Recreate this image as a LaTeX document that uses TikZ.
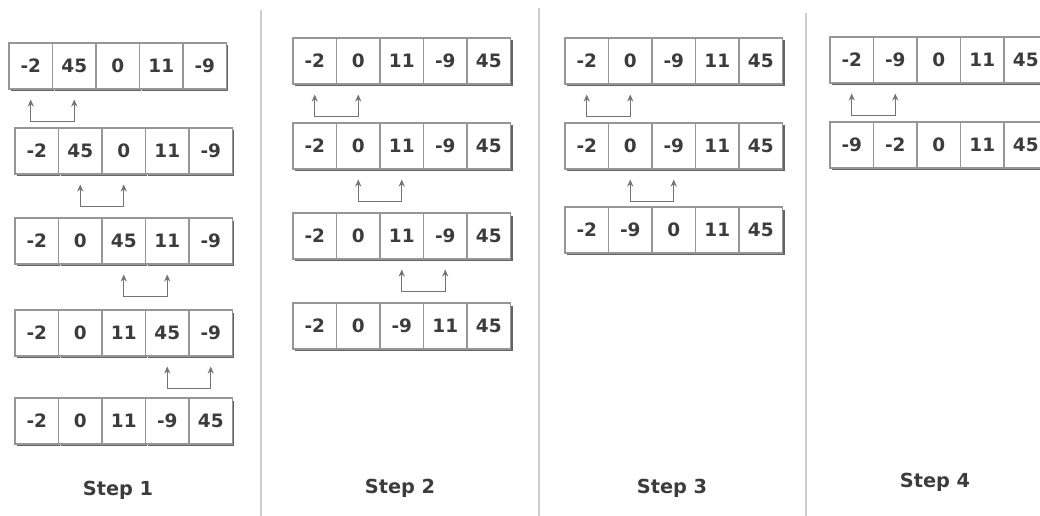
\documentclass[tikz,border=0pt]{standalone}
\usepackage{fontspec}
\setmainfont{DejaVu Sans}
\usepackage{tikz}
\usetikzlibrary{arrows.meta, shadows}
\usepackage{xcolor}
\definecolor{cellline}{RGB}{150, 150, 150}
\definecolor{cellshadow}{RGB}{100, 100, 100}
\definecolor{celltext}{RGB}{60, 60, 60}
\definecolor{divider}{RGB}{205, 205, 205}
\tikzset{
    cell/.style={rectangle, minimum width=0.87cm, minimum height=0.92cm, inner sep=0pt, draw=cellline, line width=0.6pt, fill=white, text=celltext, font=\fontsize{10.5}{12}\selectfont\bfseries, drop shadow={shadow xshift=0.04cm, shadow yshift=-0.05cm, fill=cellshadow, opacity=1}},
    swaparrow/.style={draw=black!55, line width=0.6pt, arrows={Stealth[length=4pt,width=3.5pt]-Stealth[length=4pt,width=3.5pt]}},
    steplabel/.style={text=celltext, font=\fontsize{11}{13}\selectfont\bfseries},
    divline/.style={draw=divider, line width=1.2pt}
}

\begin{document}
\begin{tikzpicture}[x=0.02cm, y=-0.02cm]
        \useasboundingbox (0,0) rectangle (1040,516);
        \clip (0,0) rectangle (1040,516);

        % Dividers between the steps
        \coordinate (d1t) at (261,10);  \coordinate (d1b) at (261,516);
        \coordinate (d2t) at (539,8);   \coordinate (d2b) at (539,516);
        \coordinate (d3t) at (806,13);  \coordinate (d3b) at (806,516);
        \draw[divline] (d1t) -- (d1b);
        \draw[divline] (d2t) -- (d2b);
        \draw[divline] (d3t) -- (d3b);

        % Step 1
        \foreach \vals/\ty/\tx [count=\r] in {{-2,45,0,11,-9}/43/9, {-2,45,0,11,-9}/128/15, {-2,0,45,11,-9}/218/15, {-2,0,11,45,-9}/310/15, {-2,0,11,-9,45}/398/15}
            \foreach \v [count=\c] in \vals
                \node[cell] (s1-\r-\c) at ({\tx+21.75+43.5*(\c-1)}, {\ty+23}) {\v};
        \foreach \r/\c in {1/1, 2/2, 3/3, 4/4} {
            \pgfmathtruncatemacro\d{\c+1}
            \draw[swaparrow] ([yshift=-0.2cm]s1-\r-\c.south) -- ([yshift=-0.64cm]s1-\r-\c.south) -| ([yshift=-0.2cm]s1-\r-\d.south);
        }
        \node[steplabel] (lab1) at (118,490) {Step 1};

        % Step 2
        \foreach \vals/\ty [count=\r] in {{-2,0,11,-9,45}/38, {-2,0,11,-9,45}/123, {-2,0,11,-9,45}/213, {-2,0,-9,11,45}/303}
            \foreach \v [count=\c] in \vals
                \node[cell] (s2-\r-\c) at ({293+21.75+43.5*(\c-1)}, {\ty+23}) {\v};
        \foreach \r/\c in {1/1, 2/2, 3/3} {
            \pgfmathtruncatemacro\d{\c+1}
            \draw[swaparrow] ([yshift=-0.2cm]s2-\r-\c.south) -- ([yshift=-0.64cm]s2-\r-\c.south) -| ([yshift=-0.2cm]s2-\r-\d.south);
        }
        \node[steplabel] (lab2) at (400,488) {Step 2};

        % Step 3
        \foreach \vals/\ty [count=\r] in {{-2,0,-9,11,45}/38, {-2,0,-9,11,45}/123, {-2,-9,0,11,45}/207}
            \foreach \v [count=\c] in \vals
                \node[cell] (s3-\r-\c) at ({565+21.75+43.5*(\c-1)}, {\ty+23}) {\v};
        \foreach \r/\c in {1/1, 2/2} {
            \pgfmathtruncatemacro\d{\c+1}
            \draw[swaparrow] ([yshift=-0.2cm]s3-\r-\c.south) -- ([yshift=-0.64cm]s3-\r-\c.south) -| ([yshift=-0.2cm]s3-\r-\d.south);
        }
        \node[steplabel] (lab3) at (672,488) {Step 3};

        % Step 4
        \foreach \vals/\ty [count=\r] in {{-2,-9,0,11,45}/37, {-9,-2,0,11,45}/122}
            \foreach \v [count=\c] in \vals
                \node[cell] (s4-\r-\c) at ({830+21.75+43.5*(\c-1)}, {\ty+23}) {\v};
        \draw[swaparrow] ([yshift=-0.2cm]s4-1-1.south) -- ([yshift=-0.64cm]s4-1-1.south) -| ([yshift=-0.2cm]s4-1-2.south);
        \node[steplabel] (lab4) at (935,482) {Step 4};
    \end{tikzpicture}
\end{document}
